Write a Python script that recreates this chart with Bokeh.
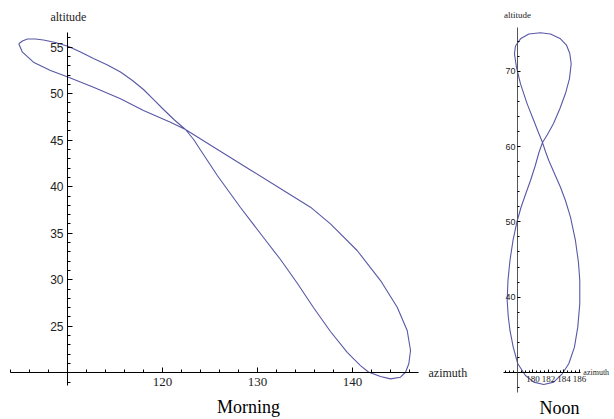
from bokeh.plotting import figure
from bokeh.models import LinearAxis, FixedTicker, Range1d
from bokeh.layouts import row
from bokeh.core.properties import value
from bokeh.embed import file_html
from bokeh.resources import INLINE

# ---- Morning analemma (azimuth, altitude) ----
morning_az = [104.87, 105.26, 105.79, 106.63, 107.47, 108.74, 110.11, 111.37, 112.74, 114.21,
              115.58, 116.84, 118.00, 119.05, 120.11, 121.26, 122.42, 123.30, 124.00, 125.79,
              128.21, 130.63, 132.42, 134.21, 135.89, 137.68, 139.47, 140.84, 141.68, 142.95,
              144.00, 145.05, 145.58, 145.93, 146.11, 145.76, 144.71, 142.95, 140.49, 137.68,
              135.58, 132.74, 129.26, 125.79, 122.42, 120.84, 118.00, 115.58, 112.74, 110.11,
              108.21, 106.42, 105.26, 104.87]
morning_alt = [55.37, 55.67, 55.88, 55.88, 55.77, 55.51, 55.08, 54.48, 53.78, 53.09,
               52.33, 51.42, 50.45, 49.38, 48.30, 47.17, 46.15, 45.05, 43.95, 41.18,
               37.76, 34.54, 32.17, 29.59, 27.01, 24.43, 22.17, 20.77, 20.08, 19.59,
               19.34, 19.52, 20.05, 20.96, 22.39, 24.54, 27.04, 29.91, 33.14, 36.01,
               37.80, 39.59, 41.80, 44.00, 46.15, 46.94, 48.19, 49.45, 50.70, 51.77,
               52.49, 53.39, 54.46, 55.37]

# ---- Noon analemma ----
noon_az = [180.97, 182.26, 183.55, 184.32, 184.75, 184.93, 184.71, 184.19, 183.48, 182.65,
           181.87, 181.23, 180.77, 180.26, 179.68, 179.03, 178.45, 177.94, 177.42, 177.03,
           176.77, 176.67, 176.81, 177.03, 177.45, 178.04, 179.03, 180.10, 181.39, 182.68,
           183.77, 184.62, 185.35, 185.78, 186.04, 186.04, 185.87, 185.48, 184.84, 184.19,
           183.55, 182.77, 182.04, 181.61, 181.23, 180.65, 180.10, 179.25, 178.39, 177.87,
           177.61, 177.74, 178.39, 179.46, 180.97]
noon_alt = [75.10, 74.94, 74.30, 73.48, 72.35, 70.98, 69.03, 67.04, 65.05, 63.06,
            61.60, 60.53, 59.21, 57.35, 55.49, 53.63, 51.91, 50.05, 47.53, 44.87,
            42.22, 39.56, 37.44, 35.58, 33.36, 31.16, 29.60, 28.72, 28.41, 28.72,
            29.83, 31.16, 33.36, 36.02, 39.12, 42.22, 44.60, 47.53, 50.62, 52.84,
            54.60, 56.42, 58.15, 59.34, 60.53, 62.00, 63.46, 65.67, 68.33, 70.53,
            72.31, 73.35, 74.30, 74.94, 75.10]

# ---- Ticks ----
m_x_ticks = [120, 130, 140]
m_x_minor = [104 + 2 * i for i in range(22)]
m_y_ticks = [25, 30, 35, 40, 45, 50, 55]
m_y_minor = [19 + i for i in range(38)]
n_x_ticks = [180, 182, 184, 186]
n_x_minor = [176.5 + 0.5 * i for i in range(20)]
n_y_ticks = [40, 50, 60, 70]
n_y_minor = [28 + 2 * i for i in range(24)]

CURVE = "#5858a6"
SERIF = "Liberation Serif"
SANS = "Liberation Sans"


def base_fig(w, h, xr, yr):
    p = figure(width=w, height=h, x_range=Range1d(*xr), y_range=Range1d(*yr),
               output_backend="svg", toolbar_location=None,
               x_axis_type=None, y_axis_type=None, min_border=0)
    p.outline_line_color = None
    p.background_fill_color = "white"
    p.border_fill_color = "white"
    return p


def style_axis(ax, maj_in, min_in, font, size, standoff):
    ax.axis_line_color = "black"
    ax.axis_line_width = 1
    ax.major_tick_in = maj_in
    ax.major_tick_out = 0
    ax.minor_tick_in = min_in
    ax.minor_tick_out = 0
    ax.major_tick_line_color = "black"
    ax.minor_tick_line_color = "black"
    ax.major_label_text_font = font
    ax.major_label_text_font_size = size
    ax.major_label_text_color = "#222222"
    ax.major_label_standoff = standoff


# ---------------- Morning ----------------
p1 = base_fig(498, 419, (102.95, 155.37), (14.97, 60.02))
xa = LinearAxis(fixed_location=20, bounds=(104.0, 146.95),
                ticker=FixedTicker(ticks=m_x_ticks, minor_ticks=m_x_minor))
style_axis(xa, 5, 3, SERIF, "13px", 5)
p1.add_layout(xa, "below")
ya = LinearAxis(fixed_location=110, bounds=(18.63, 56.58),
                ticker=FixedTicker(ticks=m_y_ticks, minor_ticks=m_y_minor))
style_axis(ya, 5, 3, SANS, "12px", 4)
p1.add_layout(ya, "left")
p1.line(morning_az, morning_alt, line_color=CURVE, line_width=1.1)
p1.text(x=[110.1], y=[58.25], text=["altitude"], text_font=value(SERIF), text_font_size="12px",
        text_align="center", text_baseline="middle", text_color="#222222")
p1.text(x=[148.0], y=[20], text=["azimuth"], text_font=value(SERIF), text_font_size="12px",
        text_align="left", text_baseline="middle", text_color="#222222")
p1.text(x=[129.05], y=[16.35], text=["Morning"], text_font=value(SERIF), text_font_size="18px",
        text_align="center", text_baseline="alphabetic", text_color="black")

# ---------------- Noon ----------------
p2 = base_fig(116, 419, (175.55, 190.52), (23.76, 79.39))
xb = LinearAxis(fixed_location=30, bounds=(176.2, 186.1),
                ticker=FixedTicker(ticks=n_x_ticks, minor_ticks=n_x_minor))
style_axis(xb, 3, 2, SERIF, "9px", 3)
p2.add_layout(xb, "below")
yb = LinearAxis(fixed_location=178, bounds=(27.35, 75.8),
                ticker=FixedTicker(ticks=n_y_ticks, minor_ticks=n_y_minor))
style_axis(yb, 3, 2, SANS, "9px", 2)
yb.axis_line_color = "#555555"
p2.add_layout(yb, "left")
p2.line(noon_az, noon_alt, line_color=CURVE, line_width=1.1)
p2.text(x=[178.0], y=[77.4], text=["altitude"], text_font=value(SERIF), text_font_size="9px",
        text_align="center", text_baseline="middle", text_color="#222222")
p2.text(x=[186.5], y=[30], text=["azimuth"], text_font=value(SERIF), text_font_size="8px",
        text_align="left", text_baseline="middle", text_color="#222222")
p2.text(x=[183.42], y=[25.3], text=["Noon"], text_font=value(SERIF), text_font_size="18px",
        text_align="center", text_baseline="alphabetic", text_color="black")

layout = row(p1, p2)
open("out.html", "w").write(file_html(layout, INLINE))
